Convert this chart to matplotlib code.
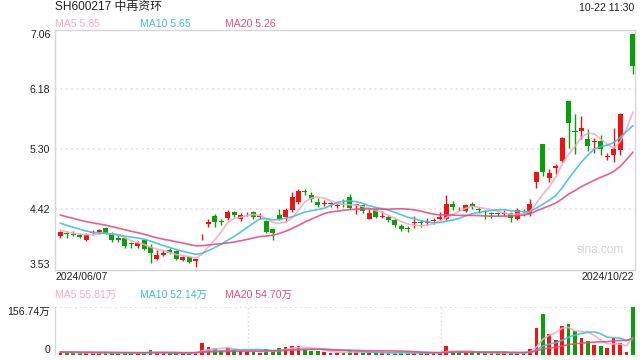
import numpy as np
import pandas as pd
import matplotlib
matplotlib.use("Agg")
import matplotlib.pyplot as plt

plt.rcParams['font.family'] = ['Liberation Sans', 'Noto Sans CJK SC', 'DejaVu Sans']

# daily candles 2024/06/07 .. 2024/10/22
opens = [4.03, 4.06, 4.05, 4.04, 3.963, 4.06, 4.08, 4.14, 4.05, 4.00,
         3.99, 3.915, 3.88, 3.96, 3.865, 3.68, 3.74, 3.815, 3.80, 3.67,
         3.72, 3.66, 4.045, 4.198, 4.316, 4.24, 4.291, 4.38, 4.27, 4.355,
         4.37, 4.30, 4.242, 4.12, 4.33, 4.306, 4.404, 4.526, 4.675, 4.624,
         4.521, 4.50, 4.49, 4.47, 4.49, 4.59, 4.48, 4.48, 4.276, 4.403,
         4.30, 4.306, 4.257, 4.169, 4.135, 4.22, 4.215, 4.22, 4.24, 4.272,
         4.276, 4.50, 4.43, 4.394, 4.50, 4.405, 4.38, 4.348, 4.35, 4.345,
         4.354, 4.266, 4.357, 4.34, 4.819, 5.372, 4.878, 5.02, 5.128, 6.004,
         5.55, 5.563, 5.456, 5.41, 5.416, 5.19, 5.221, 5.294, 6.37, 7.00]
highs = [4.10, 4.09, 4.09, 4.07, 4.06, 4.11, 4.13, 4.16, 4.08, 4.04,
         4.01, 3.94, 3.95, 3.97, 3.90, 3.81, 3.82, 3.85, 3.82, 3.73,
         3.73, 3.69, 4.05, 4.28, 4.345, 4.28, 4.40, 4.394, 4.355, 4.38,
         4.39, 4.36, 4.26, 4.135, 4.413, 4.43, 4.673, 4.72, 4.712, 4.673,
         4.575, 4.55, 4.526, 4.51, 4.56, 4.64, 4.50, 4.50, 4.423, 4.43,
         4.389, 4.33, 4.281, 4.198, 4.169, 4.315, 4.257, 4.29, 4.29, 4.379,
         4.624, 4.54, 4.452, 4.50, 4.526, 4.443, 4.40, 4.379, 4.37, 4.403,
         4.379, 4.428, 4.418, 4.565, 4.966, 5.382, 5.015, 5.089, 5.475, 6.019,
         5.823, 5.789, 5.593, 5.47, 5.514, 5.25, 5.617, 5.828, 6.37, 7.00]
lows = [4.00, 4.00, 4.02, 4.00, 3.95, 4.04, 4.05, 4.05, 3.94, 3.94,
        3.84, 3.84, 3.85, 3.82, 3.62, 3.67, 3.73, 3.76, 3.67, 3.655,
        3.62, 3.56, 3.96, 4.16, 4.16, 4.18, 4.26, 4.306, 4.24, 4.31,
        4.27, 4.28, 4.07, 3.963, 4.257, 4.232, 4.38, 4.50, 4.624, 4.526,
        4.443, 4.462, 4.453, 4.44, 4.45, 4.413, 4.34, 4.365, 4.266, 4.291,
        4.281, 4.232, 4.159, 4.095, 4.085, 4.134, 4.159, 4.183, 4.193, 4.257,
        4.257, 4.40, 4.394, 4.379, 4.413, 4.364, 4.266, 4.291, 4.32, 4.315,
        4.232, 4.256, 4.32, 4.32, 4.736, 4.907, 4.81, 4.942, 5.113, 5.319,
        5.235, 5.456, 5.27, 5.245, 5.211, 5.137, 5.113, 5.211, 6.37, 6.40]
closes = [4.075, 4.05, 4.04, 4.01, 4.037, 4.08, 4.115, 4.07, 3.96, 3.97,
          3.87, 3.90, 3.92, 3.83, 3.77, 3.74, 3.78, 3.78, 3.68, 3.71,
          3.645, 3.68, 4.05, 4.232, 4.232, 4.23, 4.374, 4.33, 4.325, 4.36,
          4.306, 4.31, 4.085, 4.06, 4.28, 4.404, 4.59, 4.683, 4.67, 4.56,
          4.472, 4.507, 4.50, 4.475, 4.485, 4.44, 4.49, 4.393, 4.364, 4.306,
          4.306, 4.257, 4.183, 4.12, 4.125, 4.225, 4.21, 4.225, 4.243, 4.306,
          4.492, 4.452, 4.428, 4.477, 4.452, 4.404, 4.379, 4.345, 4.345, 4.348,
          4.291, 4.403, 4.354, 4.50, 4.97, 4.97, 4.95, 5.045, 5.47, 5.69,
          5.55, 5.617, 5.35, 5.42, 5.30, 5.20, 5.30, 5.82, 6.37, 6.52]
# volume in 万
volumes = [8, 7, 6, 7, 9, 6, 7, 8, 7, 6,
           7, 6, 6, 7, 16, 8, 7, 6, 7, 6,
           7, 8, 39, 25, 23, 12, 23, 16, 12, 10,
           10, 8, 19, 14, 23, 25, 31, 29, 18, 12,
           12, 10, 7, 7, 7, 16, 10, 7, 7, 7,
           7, 7, 7, 7, 7, 7, 7, 7, 7, 7,
           28, 14, 10, 7, 7, 7, 7, 7, 7, 7,
           7, 7, 7, 19, 89, 135, 70, 50, 94, 101,
           80, 57, 45, 34, 28, 22, 54, 39, 9, 156.74]
# closes / volumes before the window, only used for the moving averages
prev_closes = [4.56, 4.52, 4.50, 4.47, 4.45, 4.44, 4.42, 4.40, 4.40, 4.34,
               4.36, 4.33, 4.30, 4.29, 4.27, 4.20, 4.12, 4.08, 4.08]
prev_volumes = [10, 11, 9, 10, 12, 9, 10, 11, 9, 10,
                9, 10, 11, 9, 10, 9, 10, 9, 10]

# values shown in the legends
price_ma_last = [5.85, 5.65, 5.26]
vol_ma_last = [55.81, 52.14, 54.70]

y_ticks = [3.53, 4.42, 5.30, 6.18, 7.06]
title = "SH600217 中再资环"
timestamp = "10-22 11:30"
first_date, last_date = "2024/06/07", "2024/10/22"

RED, GREEN = '#f01410', '#0a9e0a'
C5, C10, C20 = '#ffa6c4', '#3cc2de', '#ea4c82'
TXT = '#222222'

n = len(closes)
x = np.arange(n)
o, h, l, c = map(np.array, (opens, highs, lows, closes))
cols = [RED if (c[i] > o[i] or (c[i] == o[i] and (i == 0 or c[i] >= c[i - 1]))) else GREEN
        for i in range(n)]

allc = pd.Series(prev_closes + closes)
allv = pd.Series(prev_volumes + volumes)
k = len(prev_closes)
ma = {w: allc.rolling(w).mean().values[k:] for w in (5, 10, 20)}
vma = {w: allv.rolling(w).mean().values[k:] for w in (5, 10, 20)}

W, H = 640, 360
fig = plt.figure(figsize=(6.4, 3.6), dpi=100)
ax = fig.add_axes([54.5 / W, 1 - 269.5 / H, 580 / W, 240 / H])
axv = fig.add_axes([54.5 / W, 1 - 355 / H, 580 / W, 48 / H])

def ft(px, py, s, **kw):
    kw.setdefault('fontsize', 7.6)
    kw.setdefault('color', TXT)
    kw.setdefault('va', 'center')
    fig.text(px / W, 1 - py / H, s, **kw)

# price panel
for yv in y_ticks[1:-1]:
    ax.axhline(yv, color='#e2e2e2', lw=1.3, ls=(0, (1, 2)), zorder=0)
body_w = 0.78
ax.vlines(x, l, h, colors=cols, lw=1.0, zorder=2)
bh = np.maximum(np.abs(c - o), 0.012)
ax.bar(x, bh, bottom=np.minimum(o, c), width=body_w, color=cols, lw=0, zorder=3)
ax.plot(x, ma[5], color=C5, lw=1.2, alpha=0.9, zorder=4)
ax.plot(x, ma[10], color=C10, lw=1.2, alpha=0.9, zorder=4)
ax.plot(x, ma[20], color=C20, lw=1.2, alpha=0.9, zorder=4)
ax.set_xlim(-0.93, n - 0.75)
ax.set_ylim(y_ticks[0], y_ticks[-1])
ax.set_xticks([])
ax.set_yticks(y_ticks)
ax.set_yticklabels([f"{v:.2f}" for v in y_ticks], fontsize=7.6, color=TXT)
ax.tick_params(axis='y', length=0, pad=3)
tl = ax.get_yticklabels()
tl[0].set_va('bottom')
tl[-1].set_va('top')
for s in ax.spines.values():
    s.set_color('#d6d6d6')
    s.set_linewidth(1.0)
ax.text(0.982, 0.08, "sina.com", transform=ax.transAxes, ha='right', va='center',
        fontsize=8.5, color='#d4d4d4')

# volume panel
axv.bar(x, volumes, width=body_w * 0.75, color=cols, lw=0, zorder=2)
axv.plot(x, vma[5], color=C5, lw=1.2, alpha=0.9, zorder=3)
axv.plot(x, vma[10], color=C10, lw=1.2, alpha=0.9, zorder=3)
axv.plot(x, vma[20], color=C20, lw=1.2, alpha=0.9, zorder=3)
axv.set_xlim(-0.93, n - 0.75)
axv.set_ylim(0, max(volumes))
axv.set_xticks([])
axv.set_yticks([0, max(volumes)])
axv.set_yticklabels(["0", f"{max(volumes):.2f}万"], fontsize=7.6, color=TXT)
axv.tick_params(axis='y', length=0, pad=3)
vl = axv.get_yticklabels()
vl[0].set_va('bottom')
vl[1].set_va('top')
for xv in (29.2, 59.2):
    axv.axvline(xv, color='#d8d8d8', lw=1.0, ls=(0, (1, 2)), zorder=0)
axv.axhline(max(volumes), color='#d8d8d8', lw=1.2, ls=(0, (1, 2)), zorder=0)
for side in ('top', 'right', 'bottom'):
    axv.spines[side].set_visible(False)
axv.spines['left'].set_color('#d6d6d6')
axv.axhline(0, color='#d8d8d8', lw=1.0, ls=(0, (1, 2)), zorder=1)

# header / labels
ft(55, 7, title, fontsize=8.6)
ft(634, 8, timestamp, ha='right')
ft(55, 24, f"MA5 {price_ma_last[0]:.2f}", color=C5)
ft(140, 24, f"MA10 {price_ma_last[1]:.2f}", color=C10)
ft(225, 24, f"MA20 {price_ma_last[2]:.2f}", color=C20)
ft(55, 277, first_date)
ft(634, 277, last_date, ha='right')
ft(55, 295, f"MA5 {vol_ma_last[0]:.2f}万", color=C5)
ft(140, 295, f"MA10 {vol_ma_last[1]:.2f}万", color=C10)
ft(225, 295, f"MA20 {vol_ma_last[2]:.2f}万", color=C20)

fig.savefig("out.png", dpi=100)
